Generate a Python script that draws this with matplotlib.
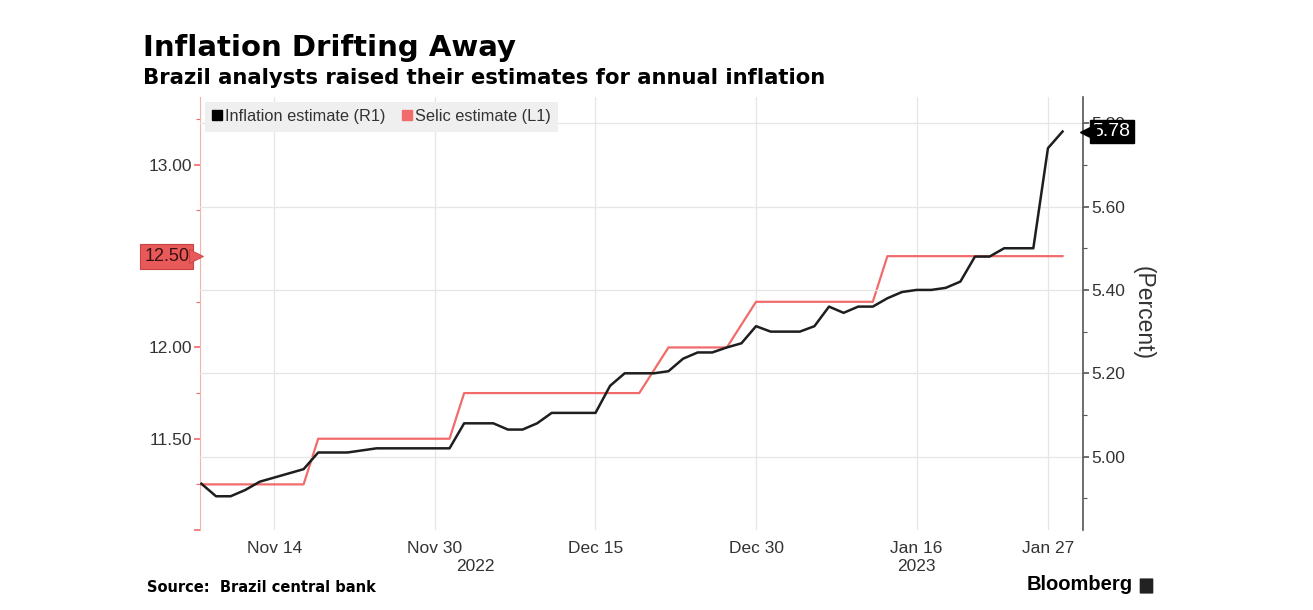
#!/usr/bin/env python3

import numpy as np
import pandas as pd
import matplotlib.pyplot as plt
import matplotlib.transforms as mtransforms
from matplotlib.lines import Line2D
from matplotlib.patches import FancyBboxPatch
from matplotlib.ticker import MultipleLocator

# business days shown on the chart (Brazil holiday Nov 15 is skipped)
dates = pd.bdate_range("2022-11-07", "2023-01-30")
dates = dates[dates != pd.Timestamp("2022-11-15")]

# 2023 IPCA estimate, right axis (percent)
inflation = [4.935, 4.905, 4.905, 4.92, 4.94, 4.95, 4.96, 4.97, 5.01, 5.01,
             5.01, 5.015, 5.02, 5.02, 5.02, 5.02, 5.02, 5.02, 5.08, 5.08,
             5.08, 5.065, 5.065, 5.08, 5.105, 5.105, 5.105, 5.105, 5.17, 5.20,
             5.20, 5.20, 5.205, 5.235, 5.25, 5.25, 5.262, 5.272, 5.313, 5.30,
             5.30, 5.30, 5.313, 5.36, 5.345, 5.36, 5.36, 5.38, 5.395, 5.40,
             5.40, 5.405, 5.42, 5.48, 5.48, 5.50, 5.50, 5.50, 5.74, 5.78]

# 2023 Selic estimate, left axis (percent); nan = no reading that day
selic = ([11.25] * 8 + [11.50] * 10 + [11.75] * 13 + [np.nan]
         + [12.00] * 5 + [np.nan] + [12.25] * 9 + [12.50] * 13)

tick_dates = ["2022-11-14", "2022-11-30", "2022-12-15", "2022-12-30",
              "2023-01-16", "2023-01-27"]
tick_labels = ["Nov 14", "Nov 30", "Dec 15", "Dec 30", "Jan 16", "Jan 27"]

BLACK = "#1e1e1e"
RED = "#f26b6b"
TEXT = "#333333"
FONT = "Liberation Sans"
HEAD = "DejaVu Sans"

x = np.arange(len(dates))
selic = np.array(selic)
ok = ~np.isnan(selic)

fig = plt.figure(figsize=(13.13, 6.10), dpi=100)
ax = fig.add_axes([0.1523, 0.1311, 0.6725, 0.710])
ax2 = ax.twinx()

ax.plot(x[ok], selic[ok], color=RED, lw=1.6, zorder=3)
ax2.plot(x, inflation, color=BLACK, lw=1.8, zorder=4)

ax.set_xlim(-0.1, 60.4)
ax.set_ylim(11.0, 13.372)
ax2.set_ylim(4.824, 5.863)

# x ticks at the chart's dates
tick_pos = [dates.get_loc(pd.Timestamp(d)) for d in tick_dates]
ax.set_xticks(tick_pos)
ax.set_xticklabels(tick_labels, fontsize=12.5, color=TEXT, family=FONT)
ax.tick_params(axis="x", length=0, pad=8)
ax.grid(axis="x", color="#e6e6e6", lw=0.9)

yr = mtransforms.blended_transform_factory(ax.transData, ax.transAxes)
ax.text(18.8, -0.067, "2022", transform=yr, ha="center", va="top",
        fontsize=12.5, color=TEXT, family=FONT)
ax.text(49.0, -0.067, "2023", transform=yr, ha="center", va="top",
        fontsize=12.5, color=TEXT, family=FONT)


def left_fmt(v, p):
    # the 12.50 value sits in its own tag, the bottom tick has no label
    if abs(v - 12.5) < 1e-6 or v < 11.1:
        return ""
    return f"{v:.2f}"


# left axis
ax.yaxis.set_major_locator(MultipleLocator(0.5))
ax.yaxis.set_minor_locator(MultipleLocator(0.25))
ax.yaxis.set_major_formatter(left_fmt)
ax.tick_params(axis="y", which="both", colors=RED, labelcolor=TEXT,
               labelsize=12.5, pad=2)
ax.tick_params(axis="y", which="major", length=4, width=1.2)
ax.tick_params(axis="y", which="minor", length=3, width=0.8)
for lab in ax.get_yticklabels():
    lab.set_family(FONT)

# right axis
ax2.yaxis.set_major_locator(MultipleLocator(0.2))
ax2.yaxis.set_minor_locator(MultipleLocator(0.1))
ax2.yaxis.set_major_formatter(lambda v, p: f"{v:.2f}")
ax2.tick_params(axis="y", which="both", colors="#555555", labelcolor=TEXT,
                labelsize=12.5, pad=2)
ax2.tick_params(axis="y", which="major", length=4, width=1.2)
ax2.tick_params(axis="y", which="minor", length=3, width=0.8)
for lab in ax2.get_yticklabels():
    lab.set_family(FONT)
ax2.grid(axis="y", color="#e6e6e6", lw=0.9, zorder=0)
ax2.set_ylabel("(Percent)", rotation=270, fontsize=16.5, color=TEXT,
               family=FONT, labelpad=21)

for a in (ax, ax2):
    a.spines["top"].set_visible(False)
    a.spines["bottom"].set_visible(False)
ax.spines["right"].set_visible(False)
ax.spines["left"].set_color("#f7b0b0")
ax2.spines["left"].set_visible(False)
ax2.spines["right"].set_color("#555555")
ax2.spines["right"].set_linewidth(1.2)

# value tags
tl = mtransforms.blended_transform_factory(ax.transAxes, ax.transData)
ax.text(-0.012, selic[-1], f"{selic[-1]:.2f}", transform=tl, ha="right",
        va="center", fontsize=13, color="#3a1010", family=FONT, zorder=6,
        clip_on=False,
        bbox=dict(boxstyle="square,pad=0.22", fc="#e85a5a", ec="#c84444", lw=0.8))
ax.plot([-0.0045], [selic[-1]], marker=">", ms=10, color="#e85a5a",
        mec="#c84444", mew=0.6, transform=tl, clip_on=False, zorder=7)

tr = mtransforms.blended_transform_factory(ax2.transAxes, ax2.transData)
ax2.text(1.011, inflation[-1], f"{inflation[-1]:.2f}", transform=tr,
         ha="left", va="center", fontsize=14, color="white", family=FONT,
         zorder=6, clip_on=False,
         bbox=dict(boxstyle="square,pad=0.15", fc="black", ec="black"))
ax2.plot([1.006], [inflation[-1]], marker="<", ms=11, color="black",
         transform=tr, clip_on=False, zorder=7)

# legend
handles = [Line2D([], [], ls="", marker="s", ms=7.5, color="black"),
           Line2D([], [], ls="", marker="s", ms=7.5, color=RED)]
leg = ax2.legend(handles, ["Inflation estimate (R1)", "Selic estimate (L1)"],
                 loc="upper left", ncol=2, frameon=True, fancybox=False,
                 borderaxespad=0.3, handlelength=0.6, handletextpad=0.2,
                 columnspacing=1.0, borderpad=0.45,
                 prop={"family": FONT, "size": 11.8})
leg.get_frame().set_facecolor("#efefef")
leg.get_frame().set_edgecolor("none")
leg.get_frame().set_alpha(1)
for t in leg.get_texts():
    t.set_color(TEXT)

# titles and footer
fig.text(143 / 1313, 1 - 48 / 610, "Inflation Drifting Away", fontsize=21,
         fontweight="bold", family=HEAD, color="black", va="center")
fig.text(143 / 1313, 1 - 78 / 610,
         "Brazil analysts raised their estimates for annual inflation",
         fontsize=15.2, fontweight="bold", family=HEAD, color="black",
         va="center")
fig.text(147 / 1313, 1 - 588 / 610, "Source:  Brazil central bank",
         fontsize=10.5, fontweight="bold", family=HEAD, color="black",
         va="center")
fig.text(1133 / 1313, 1 - 585 / 610, "Bloomberg", fontsize=14.5,
         fontweight="bold", family=FONT, color="black", va="center", ha="right")
fig.patches.append(FancyBboxPatch((1141 / 1313, 1 - 593 / 610), 11 / 1313, 14 / 610,
                                  boxstyle="round,pad=0.001", fc="#222222",
                                  ec="none", transform=fig.transFigure))

fig.savefig("out.png", dpi=100)
